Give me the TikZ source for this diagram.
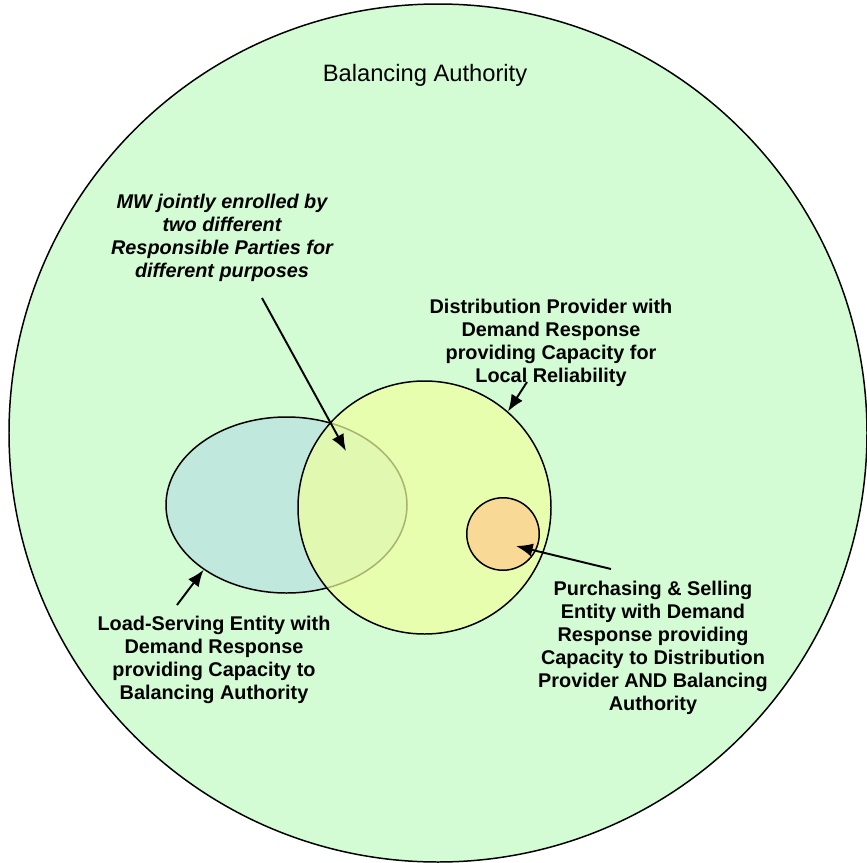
\documentclass[tikz,border=0pt]{standalone}
\usepackage{xcolor}
\usepackage{fontspec}
\setmainfont{Liberation Sans}
\usepackage{tikz}
\usetikzlibrary{shapes.geometric, arrows.meta, positioning}
\definecolor{bagreen}{RGB}{212,252,212}
\definecolor{lseteal}{RGB}{192,232,220}
\definecolor{dpyellow}{RGB}{240,255,160}
\definecolor{pseorange}{RGB}{248,218,150}
\tikzstyle{region} = [circle, inner sep=0pt, draw=black, line width=0.85pt]
\tikzstyle{label} = [align=center, font=\fontsize{11.3}{13.1}\selectfont\bfseries]
\tikzstyle{arrow} = [line width=1.1pt, -{Latex[length=9.5pt, width=7.5pt]}]

\begin{document}
\begin{tikzpicture}
            \useasboundingbox (0,0) rectangle (17.34,-17.26);
            \node[region, fill=bagreen, minimum size=17.16cm] (ba) at (8.76,-8.66) {};
            \node[font=\fontsize{13.5}{16}\selectfont] (batitle) at (8.50,-1.50) {Balancing Authority};

            \node[region, ellipse, fill=lseteal, minimum width=4.82cm, minimum height=3.52cm] (lse) at (5.73,-10.10) {};
            \node[region, fill=dpyellow, fill opacity=0.7, minimum size=5.06cm] (dp) at (8.49,-10.15) {};
            \node[region, fill=pseorange, minimum size=1.45cm] (pse) at (10.06,-10.68) {};

            \node[label, font=\fontsize{11.3}{13.1}\selectfont\bfseries\itshape] (mwtext) at (4.44,-4.75) {MW jointly enrolled by\\two different\\Responsible Parties for\\different purposes};
            \node[label] (dptext) at (11.02,-6.85) {Distribution Provider with\\Demand Response\\providing Capacity for\\Local Reliability};
            \node[label] (lsetext) at (4.28,-13.19) {Load-Serving Entity with\\Demand Response\\providing Capacity to\\Balancing Authority};
            \node[label] (psetext) at (13.06,-12.96) {Purchasing \& Selling\\Entity with Demand\\Response providing\\Capacity to Distribution\\Provider AND Balancing\\Authority};

            % arrow ends
            \coordinate (mwfrom) at (5.24,-5.96);
            \coordinate (mwto) at (6.92,-9.02);
            \coordinate (dpfrom) at (10.54,-7.64);
            \coordinate (lsefrom) at (3.54,-12.10);
            \coordinate (psefrom) at (12.22,-11.38);
            \coordinate (pseto) at (10.32,-10.92);

            \draw[arrow] (mwfrom) -- (mwto);
            \draw[arrow] (dpfrom) -- (dp.49);
            \draw[arrow] (lsefrom) -- (lse.218);
            \draw[arrow] (psefrom) -- (pseto);
        \end{tikzpicture}
\end{document}
